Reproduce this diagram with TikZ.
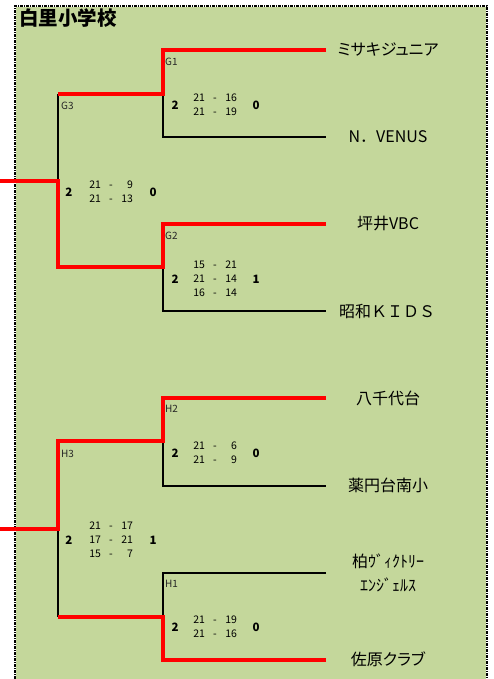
\documentclass[tikz,border=0pt]{standalone}
\usepackage{fontspec}
\setmainfont{Noto Sans CJK JP}
\newfontfamily\propfont[RawFeature=+palt]{Noto Sans CJK JP}
\usepackage{tikz}
\usetikzlibrary{positioning}
\definecolor{court}{RGB}{196,215,155}
\definecolor{winred}{RGB}{255,0,0}
\newcommand{\setsc}[2]{\makebox[12pt][r]{#1}\makebox[20pt]{-}\makebox[12pt][r]{#2}}
\tikzset{
	title/.style={font=\fontsize{19.5}{21}\selectfont\bfseries,anchor=west,inner sep=0pt},
	team/.style={font=\fontsize{16}{18}\selectfont,inner sep=0pt},
	score/.style={font=\fontsize{10.5}{14}\selectfont,align=center,inner sep=0pt},
	win/.style={font=\fontsize{11.5}{12}\selectfont\bfseries,inner sep=0pt},
	tag/.style={font=\fontsize{10}{11}\selectfont,anchor=west,inner sep=0pt,text=black!85},
	lost/.style={draw=black,line width=1.6pt},
	won/.style={draw=winred,line width=4pt},
	frame/.style={draw=black,line width=1.6pt,dash pattern=on 3pt off 1pt on 1pt off 1pt}
}

\begin{document}
\begin{tikzpicture}[x=1pt,y=-1pt]
	\useasboundingbox (0,0) rectangle (494,679);
	\fill[court] (16,7) rectangle (486,679);
	\draw[frame] (15,679) -- (15,6) -- (487,6) -- (487,679);
	\node[title] (ttl) at (19,18) {白里小学校};

	% teams
	\node[team] (t1) at (388,50) {\propfont ミサキジュニア};
	\node[team] (t2) at (388,137) {N．VENUS};
	\node[team] (t3) at (388,224) {坪井VBC};
	\node[team] (t4) at (387,311) {昭和ＫＩＤＳ};
	\node[team] (t5) at (388,398) {八千代台};
	\node[team] (t6) at (388,485) {薬円台南小};
	\node[team] (t7) at (388,561) {柏ｳﾞｨｸﾄﾘｰ};
	\node[team] (t7b) at (388,585) {ｴﾝｼﾞｪﾙｽ};
	\node[team] (t8) at (388,659) {\propfont 佐原クラブ};

	% bracket points
	\coordinate (e1) at (326,50);  \coordinate (e2) at (326,137);
	\coordinate (e3) at (326,224); \coordinate (e4) at (326,311);
	\coordinate (e5) at (326,398); \coordinate (e6) at (326,486);
	\coordinate (e7) at (326,573); \coordinate (e8) at (326,660);
	\coordinate (g1a) at (163,50);  \coordinate (g1) at (163,94);  \coordinate (g1b) at (163,137);
	\coordinate (g2a) at (163,224); \coordinate (g2) at (163,267); \coordinate (g2b) at (163,311);
	\coordinate (g3a) at (58,94);   \coordinate (g3) at (58,181);  \coordinate (g3b) at (58,267);
	\coordinate (h2a) at (163,398); \coordinate (h2) at (163,441); \coordinate (h2b) at (163,486);
	\coordinate (h1a) at (163,573); \coordinate (h1) at (163,617); \coordinate (h1b) at (163,660);
	\coordinate (h3a) at (58,441);  \coordinate (h3) at (58,529);  \coordinate (h3b) at (58,617);
	\coordinate (o1) at (0,181);    \coordinate (o2) at (0,529);

	% losers
	\draw[lost] (g1) -- (g1b) -- (e2);
	\draw[lost] (g2) -- (g2b) -- (e4);
	\draw[lost] (g3a) -- (g3);
	\draw[lost] (h2) -- (h2b) -- (e6);
	\draw[lost] (e7) -- (h1a) -- (h1);
	\draw[lost] (h3) -- (h3b);
	% winners
	\draw[won] (e1) -- (g1a) -- (g1) -- (g3a);
	\draw[won] (e3) -- (g2a) -- (g2) -- (g3b) -- (g3) -- (o1);
	\draw[won] (e5) -- (h2a) -- (h2) -- (h3a) -- (h3) -- (o2);
	\draw[won] (e8) -- (h1b) -- (h1) -- (h3b);

	% match tags
	\node[tag] (lg1) at (165,62) {G1};
	\node[tag] (lg2) at (165,236) {G2};
	\node[tag] (lg3) at (61,106) {G3};
	\node[tag] (lh2) at (165,409) {H2};
	\node[tag] (lh1) at (165,584) {H1};
	\node[tag] (lh3) at (61,454) {H3};

	% scores
	\node[win] (w1) at (175,105) {2};
	\node[score] (s1) at (215,105) {\setsc{21}{16}\\\setsc{21}{19}};
	\node[win] (l1) at (256,105) {0};
	\node[win] (w2) at (175,279) {2};
	\node[score] (s2) at (215,279) {\setsc{15}{21}\\\setsc{21}{14}\\\setsc{16}{14}};
	\node[win] (l2) at (256,279) {1};
	\node[win] (w3) at (69,192) {2};
	\node[score] (s3) at (111,192) {\setsc{21}{9}\\\setsc{21}{13}};
	\node[win] (l3) at (153,192) {0};
	\node[win] (w4) at (175,453) {2};
	\node[score] (s4) at (215,453) {\setsc{21}{6}\\\setsc{21}{9}};
	\node[win] (l4) at (256,453) {0};
	\node[win] (w5) at (175,627) {2};
	\node[score] (s5) at (215,627) {\setsc{21}{19}\\\setsc{21}{16}};
	\node[win] (l5) at (256,627) {0};
	\node[win] (w6) at (69,540) {2};
	\node[score] (s6) at (111,540) {\setsc{21}{17}\\\setsc{17}{21}\\\setsc{15}{7}};
	\node[win] (l6) at (153,540) {1};
\end{tikzpicture}
\end{document}
